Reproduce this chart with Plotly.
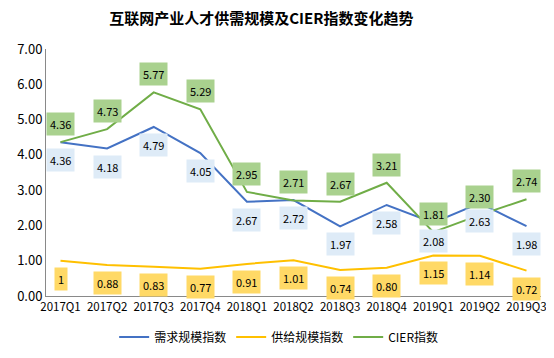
import plotly.graph_objects as go

categories = ["2017Q1", "2017Q2", "2017Q3", "2017Q4", "2018Q1", "2018Q2",
              "2018Q3", "2018Q4", "2019Q1", "2019Q2", "2019Q3"]
demand = [4.36, 4.18, 4.79, 4.05, 2.67, 2.72, 1.97, 2.58, 2.08, 2.63, 1.98]
supply = [1.00, 0.88, 0.83, 0.77, 0.91, 1.01, 0.74, 0.80, 1.15, 1.14, 0.72]
cier = [4.36, 4.73, 5.77, 5.29, 2.95, 2.71, 2.67, 3.21, 1.81, 2.30, 2.74]
supply_labels = ["1", "0.88", "0.83", "0.77", "0.91", "1.01", "0.74", "0.80", "1.15", "1.14", "0.72"]

FONT = "Noto Sans CJK SC"
fig = go.Figure()
series = [
    ("需求规模指数", demand, "#4472C4", "#DEEBF7", -18, [f"{v:.2f}" for v in demand]),
    ("供给规模指数", supply, "#FFC000", "#FFD966", -18, supply_labels),
    ("CIER指数", cier, "#70AD47", "#A9D18E", 18, [f"{v:.2f}" for v in cier]),
]
annotations = []
for name, vals, color, bg, shift, labels in series:
    fig.add_trace(go.Scatter(x=categories, y=vals, name=name, mode="lines",
                             line=dict(color=color, width=2)))
    for c, v, t in zip(categories, vals, labels):
        annotations.append(dict(x=c, y=v, text=t, showarrow=False, yshift=shift,
                                bgcolor=bg, borderpad=3,
                                font=dict(family=FONT, size=11, color="#000000")))

# page body has an 8px margin, so the figure is sized 8px smaller
fig.update_layout(
    width=546, height=350,
    margin=dict(l=38, r=13, t=41, b=62, autoexpand=False),
    paper_bgcolor="white", plot_bgcolor="white",
    title=dict(text="<b>互联网产业人才供需规模及CIER指数变化趋势</b>", x=0.464, xanchor="center",
               y=0.969, yanchor="middle", font=dict(family=FONT, size=15, color="#000000")),
    xaxis=dict(type="category", showline=True, linecolor="#898989", linewidth=1,
               showgrid=False, ticks="", tickfont=dict(family=FONT, size=11.5, color="#000000")),
    yaxis=dict(range=[0, 7], dtick=1, tickformat=".2f", showline=True, linecolor="#898989",
               linewidth=1, showgrid=False, zeroline=False, ticks="",
               tickfont=dict(family=FONT, size=13, color="#000000")),
    legend=dict(orientation="h", x=0.47, xanchor="center", yref="container", y=0.06,
                yanchor="middle",
                font=dict(family=FONT, size=12, color="#000000"), itemwidth=30,
                tracegroupgap=0),
    annotations=annotations,
    showlegend=True,
)
fig.write_html("out.html")
